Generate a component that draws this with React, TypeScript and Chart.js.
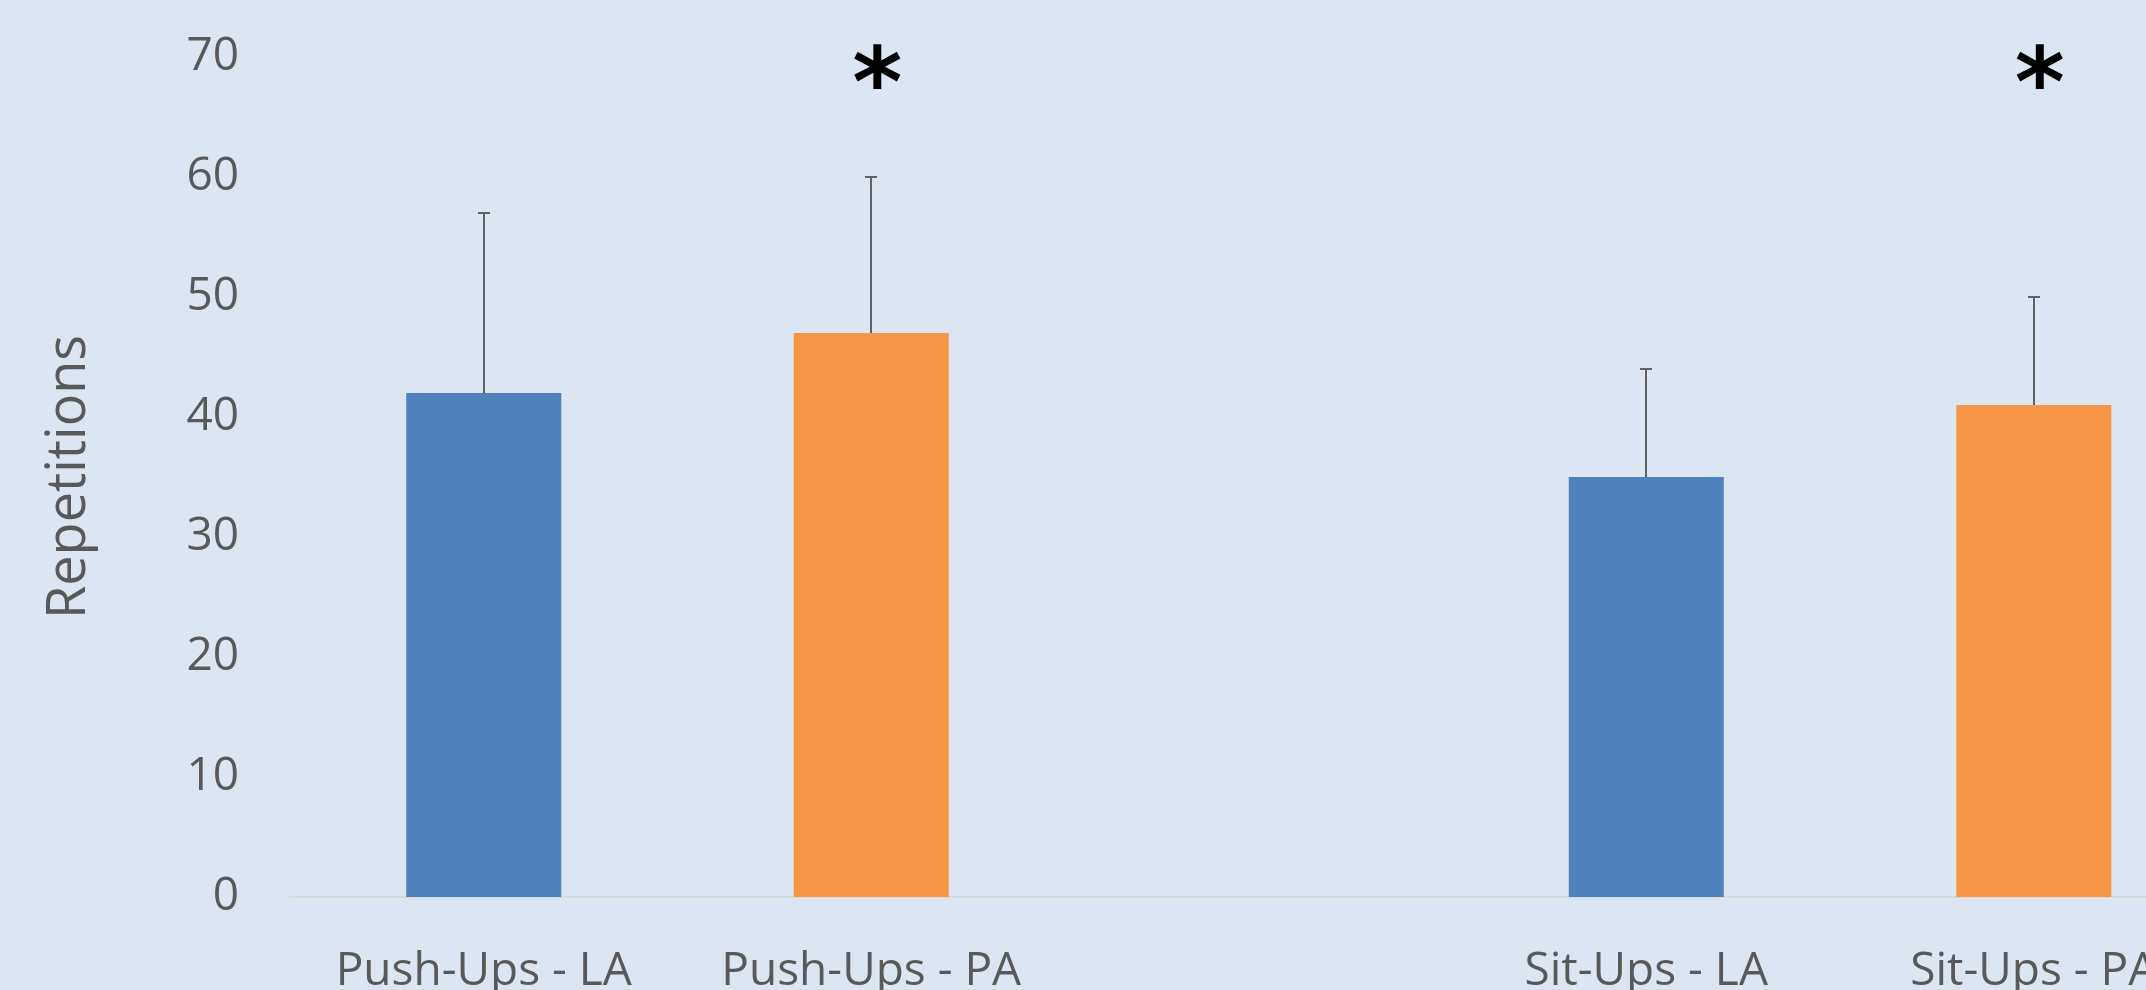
import React, { useEffect, useRef } from "react";
import { Chart, registerables } from "chart.js";

Chart.register(...registerables);

// ---- data ----
const categories = ["Push-Ups - LA", "Push-Ups - PA", "", "Sit-Ups - LA", "Sit-Ups - PA"];
const repetitions: (number | null)[] = [42, 47, null, 35, 41];
const errorUp: (number | null)[] = [15, 13, null, 9, 9];
const significance = ["", "*", "", "", "*"];
const barColors = ["#4F81BD", "#F79646", "#4F81BD", "#4F81BD", "#F79646"];
const yMin = 0;
const yMax = 70;
const yStep = 10;
const yAxisTitle = "Repetitions";

const TEXT = "#595959";
const FONT = "'Open Sans', 'Noto Sans', sans-serif";

const errorBarPlugin = {
  id: "errorBarsAndMarks",
  afterDatasetsDraw(chart: any) {
    const { ctx, scales } = chart;
    const x = scales.x;
    const y = scales.y;
    const meta = chart.getDatasetMeta(0);
    ctx.save();
    meta.data.forEach((bar: any, i: number) => {
      const v = repetitions[i];
      const e = errorUp[i];
      if (v == null || e == null) return;
      const cx = Math.round(bar.x);
      const y0 = y.getPixelForValue(v);
      const y1 = y.getPixelForValue(v + e);
      ctx.strokeStyle = "#616161";
      ctx.lineWidth = 2;
      ctx.beginPath();
      ctx.moveTo(cx, y0);
      ctx.lineTo(cx, y1);
      ctx.moveTo(cx - 6, y1);
      ctx.lineTo(cx + 6, y1);
      ctx.stroke();
    });
    significance.forEach((s, i) => {
      if (!s) return;
      ctx.font = "bold 100px 'DejaVu Sans', sans-serif";
      const m0 = ctx.measureText(s);
      const h0 = m0.actualBoundingBoxAscent + m0.actualBoundingBoxDescent;
      const fs = (100 * 45) / h0;
      ctx.font = `bold ${fs}px 'DejaVu Sans', sans-serif`;
      const m = ctx.measureText(s);
      const cxTarget = x.getPixelForValue(i) + 6;
      const cyTarget = y.getPixelForValue(yMax) + 9;
      const baseline = cyTarget - (m.actualBoundingBoxDescent - m.actualBoundingBoxAscent) / 2;
      const left = cxTarget - (m.actualBoundingBoxLeft + m.actualBoundingBoxRight) / 2 + m.actualBoundingBoxLeft;
      ctx.fillStyle = "#000000";
      ctx.textAlign = "left";
      ctx.textBaseline = "alphabetic";
      ctx.fillText(s, left, baseline);
    });
    ctx.restore();
  },
};

export default function App() {
  const ref = useRef<HTMLCanvasElement | null>(null);

  useEffect(() => {
    document.body.style.margin = "0";
    const canvas = ref.current;
    if (!canvas) return;
    const chart = new Chart(canvas, {
      type: "bar",
      data: {
        labels: categories,
        datasets: [
          {
            data: repetitions as any,
            backgroundColor: barColors,
            borderWidth: 0,
            barPercentage: 0.4,
            categoryPercentage: 1,
          },
        ],
      },
      options: {
        animation: false,
        responsive: false,
        maintainAspectRatio: false,
        devicePixelRatio: 1,
        layout: { padding: { top: 57, right: 12.5, bottom: 0, left: 0 } },
        plugins: {
          legend: { display: false },
          tooltip: { enabled: false },
        },
        scales: {
          x: {
            grid: { display: false, drawTicks: false },
            border: { display: true, color: "#D9D9D9", width: 2 },
            ticks: {
              color: TEXT,
              font: { family: FONT, size: 46 },
              padding: 47,
              maxRotation: 0,
              autoSkip: false,
            },
            afterFit: (s: any) => {
              s.height = 93;
            },
          },
          y: {
            min: yMin,
            max: yMax,
            grid: { display: false, drawTicks: false },
            border: { display: false },
            ticks: {
              stepSize: yStep,
              color: TEXT,
              font: { family: FONT, size: 46 },
              padding: 51,
            },
            title: {
              display: true,
              text: yAxisTitle,
              color: TEXT,
              font: { family: FONT, size: 54 },
              padding: { top: 37, bottom: 0 },
            },
            afterFit: (s: any) => {
              s.width = 290;
              s.paddingTop = 0;
              s.paddingBottom = 0;
            },
          },
        },
      },
      plugins: [errorBarPlugin],
    });
    return () => chart.destroy();
  }, []);

  return (
    <div
      style={{
        position: "fixed",
        left: 0,
        top: 0,
        width: 2146,
        height: 990,
        overflow: "hidden",
        background: "#DCE6F2",
      }}
    >
      <canvas ref={ref} width={2240} height={990} style={{ width: 2240, height: 990, display: "block" }} />
    </div>
  );
}
